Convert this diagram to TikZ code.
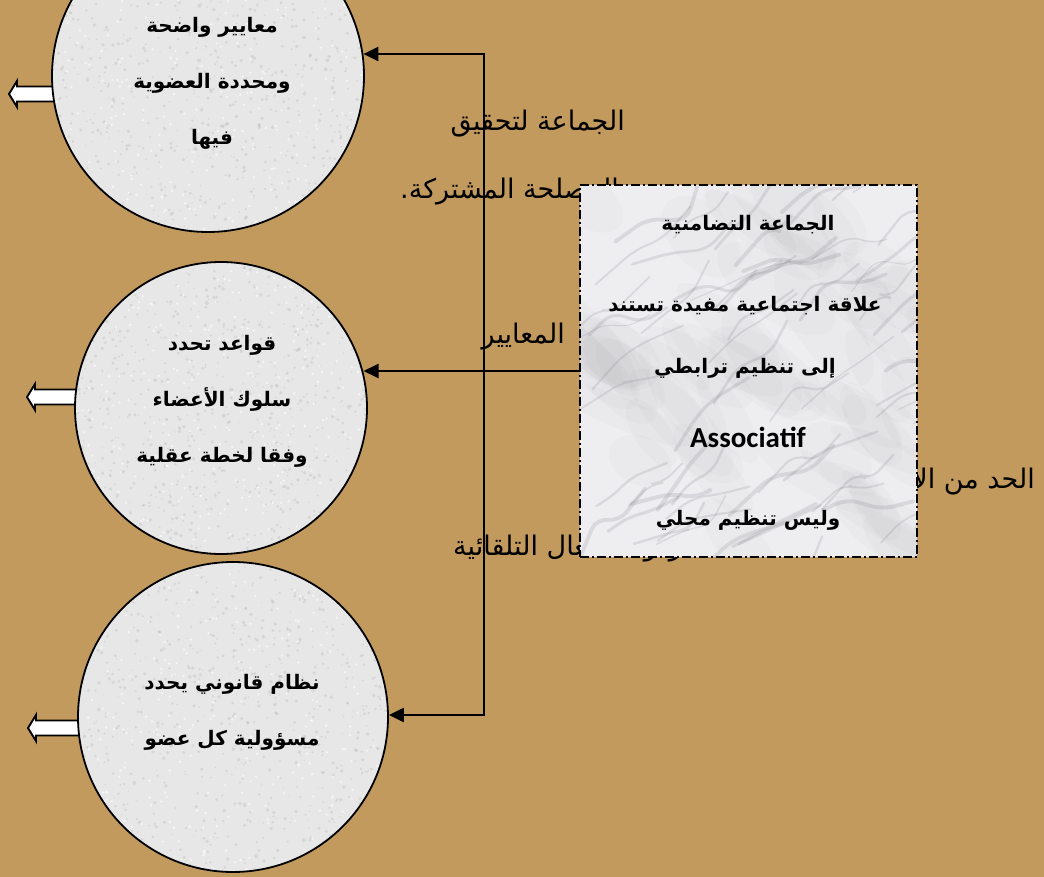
\documentclass[tikz,border=0pt]{standalone}
\usepackage{fontspec}
\TeXXeTstate=1
\newfontfamily\arabicfont[Script=Arabic]{DejaVu Sans}
\newfontfamily\latinfont{Carlito}
\usetikzlibrary{arrows.meta}
\definecolor{bgtan}{RGB}{194,154,94}
\definecolor{discgray}{RGB}{231,231,231}
\definecolor{marblebase}{RGB}{238,238,241}
\definecolor{veingray}{RGB}{110,110,118}

\begin{document}
\begin{tikzpicture}[x=1pt,y=-1pt,
  ring/.style={circle, draw=black, line width=1.8pt, minimum size=#1, inner sep=0pt},
  panel/.style={rectangle, draw=black, line width=1.7pt,
    dash pattern=on 9pt off 3pt on 2pt off 3pt, minimum width=337pt, minimum height=372pt, inner sep=0pt},
  plain/.style={font=\arabicfont\fontsize{27pt}{30pt}\selectfont, inner sep=0pt, text=black},
  disctext/.style={font=\arabicfont\bfseries\fontsize{20pt}{56pt}\selectfont, align=center, inner sep=0pt},
  paneltext/.style={font=\arabicfont\bfseries\fontsize{20pt}{24pt}\selectfont, inner sep=0pt},
  latintext/.style={font=\latinfont\bfseries\fontsize{29pt}{32pt}\selectfont, inner sep=0pt},
  wire/.style={draw=black, line width=2.2pt, line join=miter},
  tip/.style={-{Triangle[length=15pt,width=14pt]}},
  hollow/.style={draw=black, fill=white, line width=1.9pt, line join=miter},
  speck/.style={fill=gray!70, opacity=0.25},
  glint/.style={fill=white, opacity=0.6},
  vein/.style={draw=veingray, opacity=0.16, rounded corners=12pt, line cap=round},
]
\useasboundingbox (0,0) rectangle (1044,877);
\fill[bgtan] (0,0) rectangle (1044,877);
\pgfmathsetseed{1234}

% running text lying behind the panel
\node[plain, anchor=base east] (p1) at (625,131) {\beginR الجماعة لتحقيق\endR};
\node[plain, anchor=base west] (p2) at (400,199) {\beginR المصلحة المشتركة.\endR};
\node[plain, anchor=base east] (p3) at (565,343) {\beginR المعايير\endR};
\node[plain, anchor=base east] (p4) at (1035,488) {\beginR الحد من الأفعال\endR};
\node[plain, anchor=base west] (p5) at (453,555) {\beginR ردود الأفعال التلقائية\endR};

% outgoing hollow arrows on the left
\coordinate (h1) at (9,94);
\coordinate (h2) at (27,397);
\coordinate (h3) at (28,728);
\foreach \h in {h1,h2,h3}{
  \draw[hollow] (\h) -- ++(8,-13) -- ++(0,5.5) -- ++(55,0) -- ++(0,15) -- ++(-55,0) -- ++(0,5.5) -- cycle;
}

% granite discs
\foreach \cx/\cy/\r in {208/76/156, 221/408/146, 233/717/155}{
  \begin{scope}
    \clip (\cx,\cy) circle (\r);
    \fill[discgray] (\cx-\r,\cy-\r) rectangle (\cx+\r,\cy+\r);
    \foreach \k in {1,...,800}{
      \pgfmathsetmacro\px{\cx+2*\r*(rnd-0.5)}
      \pgfmathsetmacro\py{\cy+2*\r*(rnd-0.5)}
      \pgfmathsetmacro\sr{0.6+1.4*rnd}
      \fill[speck] (\px,\py) circle (\sr);
    }
    \foreach \k in {1,...,300}{
      \pgfmathsetmacro\px{\cx+2*\r*(rnd-0.5)}
      \pgfmathsetmacro\py{\cy+2*\r*(rnd-0.5)}
      \fill[glint] (\px,\py) circle (1.3);
    }
  \end{scope}
}
\node[ring=312pt] (c1) at (208,76) {};
\node[ring=292pt] (c2) at (221,408) {};
\node[ring=310pt] (c3) at (233,717) {};

% marble panel
\begin{scope}
  \clip (580,185) rectangle (917,557);
  \fill[marblebase] (580,185) rectangle (917,557);
  \foreach \k in {1,...,60}{
    \pgfmathsetmacro\px{560+380*rnd}
    \pgfmathsetmacro\py{170+400*rnd}
    \pgfmathsetmacro\rx{30+50*rnd}
    \pgfmathsetmacro\ry{12+20*rnd}
    \pgfmathsetmacro\ra{-(20+40*rnd)}
    \fill[gray, opacity=0.035, rotate around={\ra:(\px,\py)}] (\px,\py) ellipse ({\rx} and {\ry});
  }
  \foreach \k in {1,...,70}{
    \pgfmathsetmacro\sx{560+380*rnd}
    \pgfmathsetmacro\sy{180+400*rnd}
    \pgfmathsetmacro\ax{15+30*rnd}
    \pgfmathsetmacro\ay{-10-30*rnd}
    \pgfmathsetmacro\bx{10+30*rnd}
    \pgfmathsetmacro\by{-30*rnd+12}
    \pgfmathsetmacro\cxx{10+30*rnd}
    \pgfmathsetmacro\cyy{-5-30*rnd}
    \pgfmathsetmacro\lw{1+3*rnd}
    \draw[vein, line width=\lw pt] (\sx,\sy) -- ++(\ax,\ay) -- ++(\bx,\by) -- ++(\cxx,\cyy);
  }
\end{scope}
\node[panel] (box) at (748.5,371) {};

% connectors
\coordinate (vt) at (484,54);
\coordinate (vb) at (484,715);
\draw[wire, {Triangle[length=15pt,width=14pt]}-{Triangle[length=15pt,width=14pt]}]
  (c1.8.1 |- vt) -- (vt) -- (vb) -- (c3.0.7 |- vb);
\draw[wire, tip] (box.west) -- (c2.14.7 |- box.west);

% disc labels
\node[disctext] (t1) at (212,83) {\beginR معايير واضحة\endR\\ \beginR ومحددة العضوية\endR\\ \beginR فيها\endR};
\node[disctext] (t2) at (222,401) {\beginR قواعد تحدد\endR\\ \beginR سلوك الأعضاء\endR\\ \beginR وفقا لخطة عقلية\endR};
\node[disctext] (t3) at (232,712) {\beginR نظام قانوني يحدد\endR\\ \beginR مسؤولية كل عضو\endR};

% panel labels
\node[paneltext] (b1) at (748,225) {\beginR الجماعة التضامنية\endR};
\node[paneltext] (b2) at (745,306) {\beginR علاقة اجتماعية مفيدة تستند\endR};
\node[paneltext] (b3) at (745,368) {\beginR إلى تنظيم ترابطي\endR};
\node[latintext] (b4) at (748,437) {Associatif};
\node[paneltext] (b5) at (748,520) {\beginR وليس تنظيم محلي\endR};
\end{tikzpicture}
\end{document}
